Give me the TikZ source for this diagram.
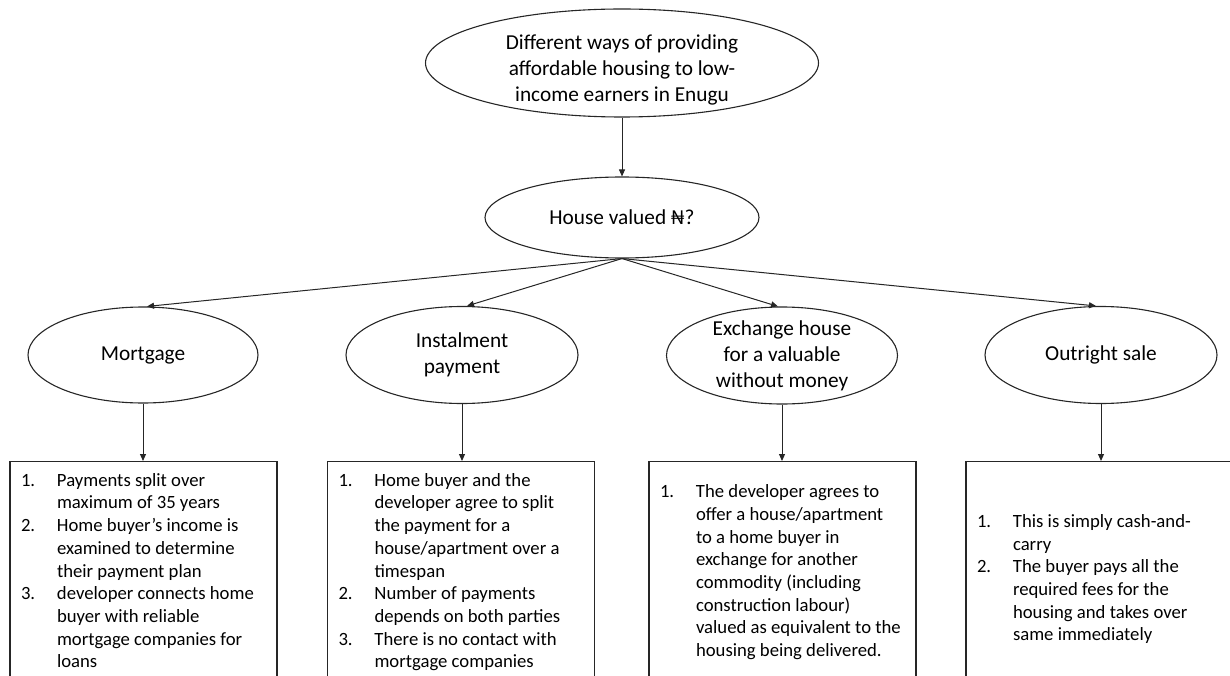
\documentclass[tikz,border=0pt]{standalone}
\usepackage{fontspec}
\setmainfont{Carlito}
\usetikzlibrary{shapes.geometric,arrows.meta}

% two-column numbered list: label column, then the wrapped lines
\newcommand{\numlist}[1]{\makebox[245pt][l]{\begin{tabular}{@{}p{36pt}@{}l@{}}#1\end{tabular}}}
% centred lines set a little below the middle of their shape
\newcommand{\lowlines}[2]{\raisebox{-#1}[\height][\depth]{\begin{tabular}{@{}c@{}}#2\end{tabular}}}

\begin{document}
\begin{tikzpicture}[x=1pt,y=-1pt,
  oval/.style={ellipse, draw=black!85, line width=1.1pt, inner sep=-25pt,
    align=center, font=\fontsize{21.3}{26}\selectfont},
  listbox/.style={rectangle, draw=black!85, line width=1.1pt, anchor=north,
    minimum width=267pt, minimum height=222pt, inner xsep=11pt, inner ysep=0pt,
    font=\fontsize{18.7}{22.7}\selectfont},
  link/.style={draw=black!85, line width=1pt, -{Triangle[length=7pt,width=6pt]}}]

\useasboundingbox (0,0) rectangle (1230,676);
\clip (0,0) rectangle (1230,676);

% question ellipses
\node[oval, minimum width=393pt, minimum height=108pt] (top) at (622,63)
  {\lowlines{7pt}{Different ways of providing\\affordable housing to low-\\income earners in Enugu}};
\node[oval, minimum width=274pt, minimum height=81pt] (val) at (622,217.5)
  {\lowlines{1.5pt}{House valued ₦?}};

% the four ways
\node[oval, minimum width=230pt, minimum height=96pt] (mort) at (143,355) {Mortgage};
\node[oval, minimum width=232pt, minimum height=97pt] (inst) at (462,355) {Instalment\\payment};
\node[oval, minimum width=231pt, minimum height=97pt] (exch) at (782,355.5) {Exchange house\\for a valuable\\without money};
\node[oval, minimum width=232pt, minimum height=97pt] (out) at (1101,355) {Outright sale};

% description boxes (run past the lower edge)
\node[listbox] (b1) at (143.5,461) {\numlist{
  1. & Payments split over\\
     & maximum of 35 years\\
  2. & Home buyer’s income is\\
     & examined to determine\\
     & their payment plan\\
  3. & developer connects home\\
     & buyer with reliable\\
     & mortgage companies for\\
     & loans}};
\node[listbox] (b2) at (461,461) {\numlist{
  1. & Home buyer and the\\
     & developer agree to split\\
     & the payment for a\\
     & house/apartment over a\\
     & timespan\\
  2. & Number of payments\\
     & depends on both parties\\
  3. & There is no contact with\\
     & mortgage companies}};
\node[listbox] (b3) at (782.5,461) {\numlist{
  1. & The developer agrees to\\
     & offer a house/apartment\\
     & to a home buyer in\\
     & exchange for another\\
     & commodity (including\\
     & construction labour)\\
     & valued as equivalent to the\\
     & housing being delivered.}};
\node[listbox, minimum height=236pt] (b4) at (1099.5,461) {\numlist{
  1. & This is simply cash-and-\\
     & carry\\
  2. & The buyer pays all the\\
     & required fees for the\\
     & housing and takes over\\
     & same immediately}};

% connectors
\draw[link] (top.south) -- (val.north);
\draw[link] (val.south) -- ([xshift=4pt]mort.north);
\draw[link] (val.south) -- ([xshift=5pt]inst.north);
\draw[link] (val.south) -- ([xshift=-4pt]exch.north);
\draw[link] (val.south) -- ([xshift=-5pt]out.north);
\draw[link] (mort.south) -- (mort.south |- b1.north);
\draw[link] (inst.south) -- (inst.south |- b2.north);
\draw[link] (exch.south) -- (exch.south |- b3.north);
\draw[link] (out.south) -- (out.south |- b4.north);
\end{tikzpicture}
\end{document}
